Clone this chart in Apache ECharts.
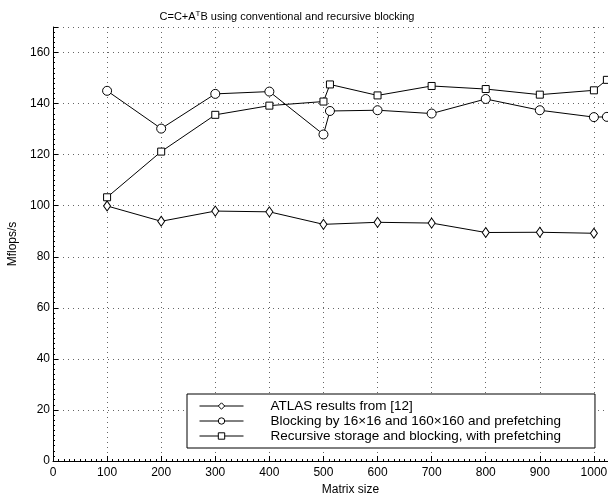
<!DOCTYPE html>
<html>
<head>
<meta charset="utf-8">
<script src="https://cdn.jsdelivr.net/npm/echarts@6/dist/echarts.min.js"></script>
<style>html,body{margin:0;padding:0;background:#fff}#c{width:608px;height:494px}</style>
</head>
<body>
<div id="c"></div>
<script>
const sizesAtlas = [100, 200, 300, 400, 500, 600, 700, 800, 900, 1000];
const atlas = [99.9, 93.9, 97.9, 97.6, 92.7, 93.5, 93.2, 89.5, 89.6, 89.2];
const sizesOwn = [100, 200, 300, 400, 500, 512, 600, 700, 800, 900, 1000, 1024];
const blocking = [145.0, 130.2, 143.8, 144.7, 127.9, 137.1, 137.4, 136.1, 141.8, 137.4, 134.7, 134.8];
const recursive = [103.3, 121.2, 135.6, 139.2, 140.8, 147.5, 143.2, 146.9, 145.7, 143.5, 145.2, 149.3];
const seriesNames = ['ATLAS results from [12]', 'Blocking by 16\u00d716 and 160\u00d7160 and prefetching', 'Recursive storage and blocking, with prefetching'];

const font = 'Liberation Sans, Arial, sans-serif';
const pair = (xs, ys) => xs.map((x, i) => [x, ys[i]]);
const chart = echarts.init(document.getElementById('c'));
const mk = (name, data, symbol, size) => ({
  name, type: 'line', data, symbol, symbolSize: size,
  lineStyle: {color: '#000', width: 1},
  itemStyle: {color: '#fff', borderColor: '#000', borderWidth: 1},
  emphasis: {disabled: true},
  animation: false
});
chart.setOption({
  animation: false,
  backgroundColor: '#fff',
  title: {
    text: 'C=C+A{sup|T}B using conventional and recursive blocking',
    left: 282, top: 5, textAlign: 'center',
    textStyle: {fontFamily: font, fontSize: 11, fontWeight: 'normal', color: '#000',
      rich: {sup: {fontFamily: font, fontSize: 8, color: '#000', padding: [0, 0, 6, 0]}}}
  },
  grid: {left: 53, top: 27, width: 595, height: 434, outerBoundsMode: 'none', containLabel: false},
  legend: {
    orient: 'vertical', left: 187, top: 394,
    padding: [5, 34, 5, 12], itemGap: 1,
    itemWidth: 44, itemHeight: 8,
    backgroundColor: '#fff', borderColor: '#000', borderWidth: 1,
    lineStyle: {width: 1, color: '#000'},
    itemStyle: {borderWidth: 1, borderColor: '#000', color: '#fff'},
    textStyle: {fontFamily: font, fontSize: 13.5, color: '#000', padding: [0, 0, 0, 22]},
    data: seriesNames
  },
  xAxis: {
    type: 'value', min: 0, max: 1100, interval: 100,
    name: 'Matrix size', nameLocation: 'middle', nameGap: 18,
    nameTextStyle: {fontFamily: font, fontSize: 12, color: '#000'},
    axisLine: {show: true, onZero: false, lineStyle: {color: '#000', width: 1}},
    axisTick: {show: true, inside: true, length: 5, lineStyle: {color: '#000'}},
    minorTick: {show: true, splitNumber: 10, length: 2, lineStyle: {color: '#000'}},
    axisLabel: {fontFamily: font, fontSize: 12, color: '#000', margin: 6,
      formatter: v => (v > 1000 ? '' : String(v))},
    splitLine: {show: true, lineStyle: {color: '#666', width: 1, type: [1, 4]}}
  },
  yAxis: {
    type: 'value', min: 0, max: 170, interval: 20,
    name: 'Mflops/s', nameLocation: 'middle', nameGap: 25,
    nameTextStyle: {fontFamily: font, fontSize: 12, color: '#000'},
    axisLine: {show: true, lineStyle: {color: '#000', width: 1}},
    axisTick: {show: true, inside: true, length: 5, lineStyle: {color: '#000'}},
    minorTick: {show: true, splitNumber: 10, length: 2, lineStyle: {color: '#000'}},
    axisLabel: {fontFamily: font, fontSize: 12, color: '#000', margin: 3,
      formatter: v => (v > 160 ? '' : String(v))},
    splitLine: {show: true, lineStyle: {color: '#666', width: 1, type: [1, 4]}}
  },
  series: [
    mk(seriesNames[0], pair(sizesAtlas, atlas), 'diamond', [7, 10]),
    mk(seriesNames[1], pair(sizesOwn, blocking), 'circle', 9),
    mk(seriesNames[2], pair(sizesOwn, recursive), 'rect', 7)
  ]
});
</script>
</body>
</html>
